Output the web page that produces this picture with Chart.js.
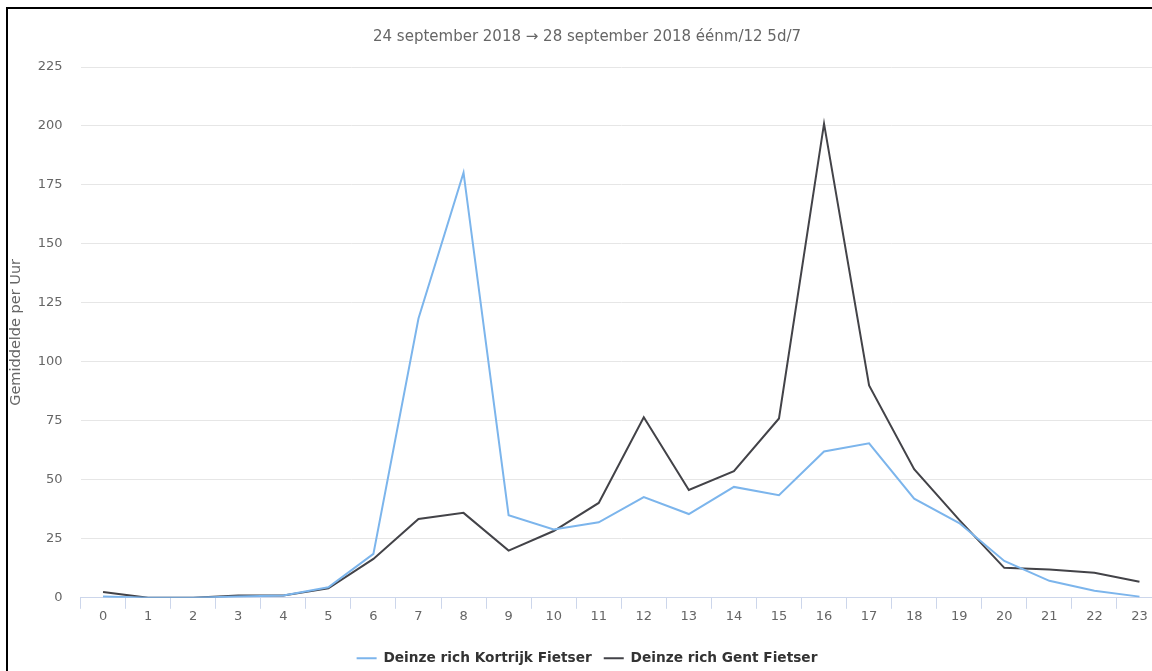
<!DOCTYPE html>
<html>
<head>
<meta charset="utf-8">
<script src="https://cdn.jsdelivr.net/npm/chart.js@4.4.1/dist/chart.umd.min.js"></script>
<style>
  html, body { margin: 0; padding: 0; background: #fff; overflow: hidden; width: 1152px; height: 671px; }
  #frame { position: absolute; left: 6px; top: 7px; width: 1200px; height: 700px;
           border-top: 2px solid #000; border-left: 2px solid #000; box-sizing: border-box; }
  #wrap { position: absolute; left: 0; top: 0; width: 1174px; height: 675px; }
</style>
</head>
<body>
<div id="frame"></div>
<div id="wrap"><canvas id="c"></canvas></div>
<script>
const hours = ["0","1","2","3","4","5","6","7","8","9","10","11","12","13","14","15","16","17","18","19","20","21","22","23"];
const kortrijk = [0.5, 0, 0, 0.5, 1, 4.5, 18.6, 118.4, 180.2, 35, 29, 32, 42.7, 35.5, 47, 43.5, 62, 65.5, 42, 31.7, 15.6, 7.2, 3, 0.5];
const gent = [2.5, 0, 0, 1, 1, 4, 16.5, 33.4, 36, 20, 28.3, 40.2, 76.5, 45.7, 53.7, 76, 201, 90, 54.5, 33, 12.7, 12, 10.6, 6.8];
const seriesNames = ["Deinze rich Kortrijk Fietser", "Deinze rich Gent Fietser"];
const seriesColors = ["#7cb5ec", "#434348"];
const subtitleText = "24 september 2018 \u2192 28 september 2018 \u00e9\u00e9nm/12 5d/7";
const yTitle = "Gemiddelde per Uur";

const FONT = "'DejaVu Sans', sans-serif";
Chart.defaults.font.family = FONT;

new Chart(document.getElementById('c'), {
  type: 'line',
  data: {
    labels: hours,
    datasets: [
      { label: seriesNames[0], data: kortrijk, borderColor: seriesColors[0], backgroundColor: seriesColors[0],
        borderWidth: 2, pointRadius: 0, pointHoverRadius: 0, tension: 0, fill: false },
      { label: seriesNames[1], data: gent, borderColor: seriesColors[1], backgroundColor: seriesColors[1],
        borderWidth: 2, pointRadius: 0, pointHoverRadius: 0, tension: 0, fill: false }
    ]
  },
  options: {
    responsive: true,
    maintainAspectRatio: false,
    animation: false,
    layout: { padding: { left: 12, right: 12, top: 0, bottom: 0 } },
    plugins: {
      tooltip: { enabled: false },
      title: {
        display: true,
        text: subtitleText,
        color: '#666666',
        font: { size: 15, weight: 'normal', family: FONT },
        padding: { top: 28.5, bottom: 20.5 }
      },
      legend: {
        display: true,
        position: 'bottom',
        labels: {
          color: '#333333',
          font: { size: 13.7, weight: 'bold', family: FONT },
          boxWidth: 20,
          boxHeight: 2,
          padding: 12,
          generateLabels(chart) {
            return chart.data.datasets.map((ds, i) => ({
              text: ds.label, fillStyle: ds.borderColor, strokeStyle: ds.borderColor,
              lineWidth: 0, datasetIndex: i, hidden: false, fontColor: '#333333'
            }));
          }
        }
      }
    },
    scales: {
      x: {
        type: 'category',
        offset: true,
        grid: { display: true, drawOnChartArea: false, drawTicks: true, tickLength: 11,
                color: '#ccd6eb', offset: true },
        border: { display: true, color: '#ccd6eb', width: 1 },
        ticks: { color: '#666666', font: { size: 13 }, padding: 0, maxRotation: 0, autoSkip: false },
        afterFit(scale) { scale.height = 41.5; }
      },
      y: {
        min: 0, max: 225,
        grid: { color: '#e6e6e6', drawTicks: false, lineWidth: 1 },
        border: { display: false },
        ticks: { stepSize: 25, color: '#666666', font: { size: 13 }, padding: 18 },
        title: { display: true, text: yTitle, color: '#666666', font: { size: 14.5 }, padding: { top: -4.7, bottom: 0 } },
        afterFit(scale) { scale.width = 68.5; }
      }
    }
  }
});
</script>
</body>
</html>
